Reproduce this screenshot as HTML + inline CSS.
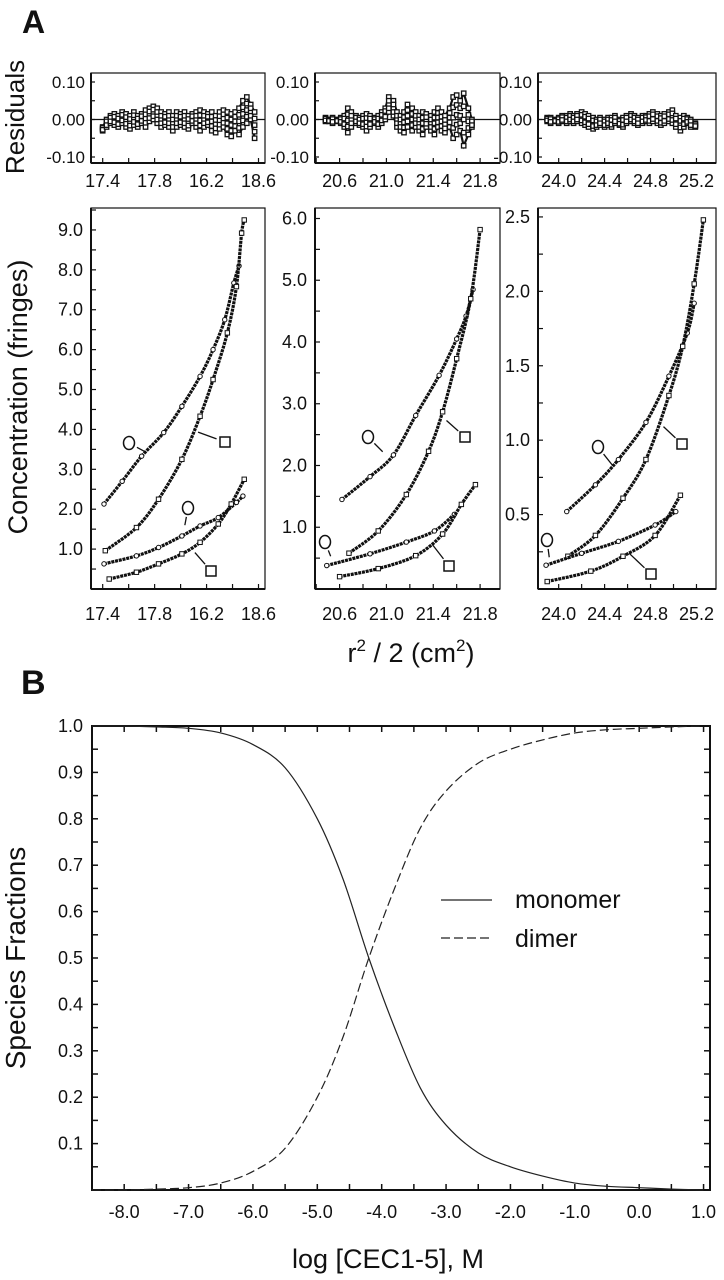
<!DOCTYPE html>
<html><head><meta charset="utf-8"><style>
html,body{margin:0;padding:0;background:#fff}
svg{display:block}
text{font-family:"Liberation Sans",sans-serif;fill:#111}
</style></head><body>
<svg id="fig" width="724" height="1280" viewBox="0 0 724 1280" xmlns="http://www.w3.org/2000/svg">
<text x="22" y="33" font-size="32" font-weight="bold">A</text>
<text x="21" y="694" font-size="34" font-weight="bold">B</text>
<text transform="translate(24,117) rotate(-90)" text-anchor="middle" font-size="26">Residuals</text>
<text transform="translate(27,397) rotate(-90)" text-anchor="middle" font-size="27">Concentration (fringes)</text>
<text x="411" y="662" text-anchor="middle" font-size="27">r<tspan font-size="17" dy="-11">2</tspan><tspan dy="11"> / 2  (cm</tspan><tspan font-size="17" dy="-11">2</tspan><tspan dy="11">)</tspan></text>
<text transform="translate(25,958) rotate(-90)" text-anchor="middle" font-size="28">Species Fractions</text>
<text x="388" y="1268" text-anchor="middle" font-size="27">log [CEC1-5], M</text>
<g id="root"></g>
</svg>
<script>
// ---------- Panel A data ----------
const xTicks1 = [17.4, 17.8, 18.2, 18.6];
const xTickLabels1 = ["17.4", "17.8", "16.2", "18.6"];
const xTicks2 = [20.6, 21.0, 21.4, 21.8];
const xTickLabels2 = ["20.6", "21.0", "21.4", "21.8"];
const xTicks3 = [24.0, 24.4, 24.8, 25.2];
const xTickLabels3 = ["24.0", "24.4", "24.8", "25.2"];
const yTicks1 = [1, 2, 3, 4, 5, 6, 7, 8, 9];
const yTickLabels1 = ["1.0","2.0","3.0","4.0","5.0","6.0","7.0","8.0","9.0"];
const yTicks2 = [1, 2, 3, 4, 5, 6];
const yTickLabels2 = ["1.0","2.0","3.0","4.0","5.0","6.0"];
const yTicks3 = [0.5, 1.0, 1.5, 2.0, 2.5];
const yTickLabels3 = ["0.5","1.0","1.5","2.0","2.5"];
const resTicks = [0.10, 0.00, -0.10];
const resTickLabels = ["0.10", "0.00", "-0.10"];

const p1CircleHi = [[17.41,2.13],[17.55,2.7],[17.70,3.33],[17.87,3.92],[18.01,4.58],[18.15,5.33],[18.25,6.0],[18.34,6.75],[18.41,7.67],[18.45,8.1]];
const p1SquareHi = [[17.42,0.96],[17.66,1.54],[17.83,2.25],[18.01,3.25],[18.15,4.33],[18.25,5.25],[18.36,6.42],[18.43,7.58],[18.47,8.92],[18.49,9.25]];
const p1CircleLo = [[17.41,0.63],[17.66,0.83],[17.83,1.04],[18.01,1.33],[18.15,1.58],[18.29,1.79],[18.43,2.17],[18.48,2.33]];
const p1SquareLo = [[17.45,0.25],[17.66,0.42],[17.83,0.63],[18.01,0.88],[18.15,1.17],[18.29,1.63],[18.39,2.13],[18.49,2.75]];
const p2CircleHi = [[20.62,1.45],[20.86,1.82],[21.06,2.17],[21.25,2.81],[21.45,3.46],[21.60,4.05],[21.68,4.42],[21.74,4.85]];
const p2SquareHi = [[20.68,0.58],[20.93,0.94],[21.17,1.53],[21.36,2.23],[21.48,2.87],[21.60,3.73],[21.72,4.70],[21.80,5.82]];
const p2CircleLo = [[20.49,0.38],[20.86,0.57],[21.17,0.76],[21.41,0.94],[21.58,1.21]];
const p2SquareLo = [[20.60,0.20],[20.93,0.33],[21.25,0.54],[21.48,0.89],[21.64,1.37],[21.76,1.69]];
const p3CircleHi = [[24.07,0.52],[24.32,0.70],[24.52,0.87],[24.76,1.12],[24.96,1.43],[25.12,1.72],[25.18,1.92]];
const p3SquareHi = [[24.08,0.22],[24.32,0.36],[24.56,0.61],[24.76,0.87],[24.96,1.30],[25.08,1.63],[25.18,2.05],[25.26,2.48]];
const p3CircleLo = [[23.89,0.16],[24.20,0.24],[24.52,0.32],[24.84,0.43],[25.02,0.52]];
const p3SquareLo = [[23.90,0.05],[24.28,0.12],[24.56,0.22],[24.84,0.36],[25.06,0.63]];

const res1X = [17.40,17.43,17.46,17.49,17.52,17.55,17.58,17.61,17.64,17.67,17.70,17.73,17.76,17.79,17.82,17.85,17.88,17.91,17.94,17.97,18.00,18.03,18.06,18.09,18.12,18.15,18.18,18.21,18.24,18.27,18.30,18.33,18.36,18.39,18.42,18.45,18.48,18.51,18.54,18.57];
const res1Hi = [-0.02,0.00,0.01,0.015,0.01,0.02,0.015,0.01,0.02,0.01,0.015,0.025,0.03,0.035,0.03,0.02,0.015,0.02,0.01,0.02,0.015,0.02,0.01,0.015,0.02,0.025,0.02,0.015,0.02,0.01,0.02,0.025,0.02,0.015,0.02,0.03,0.05,0.06,0.04,0.02];
const res1Lo = [-0.03,-0.02,-0.01,-0.015,-0.02,-0.01,-0.02,-0.025,-0.015,-0.02,-0.01,-0.02,-0.005,0.0,-0.01,-0.02,-0.015,-0.02,-0.03,-0.02,-0.015,-0.02,-0.025,-0.01,-0.02,-0.03,-0.02,-0.015,-0.03,-0.035,-0.025,-0.02,-0.04,-0.045,-0.03,-0.04,-0.02,-0.01,0.0,-0.05];
const res2X = [20.48,20.51,20.54,20.58,20.61,20.64,20.67,20.70,20.74,20.77,20.80,20.83,20.86,20.90,20.93,20.96,20.99,21.02,21.06,21.09,21.12,21.15,21.18,21.22,21.25,21.28,21.31,21.34,21.38,21.41,21.44,21.47,21.50,21.54,21.57,21.60,21.63,21.66,21.70,21.73];
const res2Hi = [0.005,0.0,0.005,0.0,0.005,0.01,0.03,0.02,0.01,0.005,0.01,0.015,0.01,0.005,0.01,0.02,0.03,0.06,0.05,0.02,0.01,0.02,0.04,0.03,0.02,0.01,0.02,0.015,0.01,0.02,0.03,0.02,0.01,0.03,0.06,0.065,0.05,0.07,0.03,0.0];
const res2Lo = [-0.005,-0.005,-0.01,-0.005,-0.01,-0.02,-0.035,-0.02,-0.01,-0.015,-0.02,-0.03,-0.02,-0.01,-0.02,-0.01,0.0,0.02,0.01,-0.02,-0.03,-0.035,-0.02,-0.03,-0.02,-0.03,-0.04,-0.02,-0.03,-0.04,-0.02,-0.03,-0.035,-0.02,-0.05,-0.04,-0.03,-0.07,-0.04,-0.02];
const res3X = [23.90,23.93,23.97,24.00,24.03,24.07,24.10,24.13,24.16,24.20,24.23,24.26,24.30,24.33,24.36,24.40,24.43,24.46,24.49,24.53,24.56,24.59,24.63,24.66,24.69,24.73,24.76,24.79,24.82,24.86,24.89,24.92,24.96,24.99,25.02,25.06,25.09,25.12,25.15,25.19];
const res3Hi = [0.005,0.005,0.0,0.005,0.01,0.01,0.015,0.01,0.015,0.02,0.015,0.01,0.005,0.0,0.005,0.0,0.005,0.005,0.01,0.0,0.005,0.01,0.015,0.01,0.005,0.01,0.01,0.015,0.02,0.015,0.01,0.015,0.02,0.025,0.01,0.005,0.01,0.005,0.0,-0.01];
const res3Lo = [-0.005,-0.01,-0.005,-0.01,-0.005,-0.01,-0.005,-0.01,-0.005,-0.01,-0.015,-0.02,-0.025,-0.02,-0.015,-0.02,-0.015,-0.02,-0.01,-0.015,-0.02,-0.01,-0.005,-0.01,-0.015,-0.01,-0.005,-0.01,-0.005,-0.01,-0.015,-0.01,-0.005,-0.01,-0.02,-0.03,-0.02,-0.01,-0.02,-0.02];

// ---------- Panel B data ----------
const logConc = [-8.5,-8.0,-7.5,-7.0,-6.5,-6.0,-5.5,-5.0,-4.6,-4.2,-3.8,-3.4,-3.0,-2.5,-2.0,-1.5,-1.0,-0.5,0.0,0.5,1.0];
const monomerFrac = [1.0,1.0,0.998,0.995,0.985,0.96,0.91,0.80,0.67,0.50,0.35,0.22,0.14,0.08,0.05,0.03,0.015,0.008,0.005,0.002,0.0];
const dimerFrac = [0.0,0.0,0.002,0.005,0.015,0.04,0.09,0.20,0.33,0.50,0.65,0.78,0.86,0.92,0.95,0.97,0.985,0.992,0.995,0.998,1.0];
const bXTicks = [-8,-7,-6,-5,-4,-3,-2,-1,0,1];
const bXTickLabels = ["-8.0","-7.0","-6.0","-5.0","-4.0","-3.0","-2.0","-1.0","0.0","1.0"];
const bYTicks = [0.1,0.2,0.3,0.4,0.5,0.6,0.7,0.8,0.9,1.0];
const bYTickLabels = ["0.1","0.2","0.3","0.4","0.5","0.6","0.7","0.8","0.9","1.0"];

const NS = "http://www.w3.org/2000/svg";
const root = document.getElementById('root');
function mk(tag, attrs, parent) {
  const e = document.createElementNS(NS, tag);
  for (const k in attrs) e.setAttribute(k, attrs[k]);
  (parent || root).appendChild(e);
  return e;
}
function scale(d0, d1, r0, r1) { return v => r0 + (v - d0) / (d1 - d0) * (r1 - r0); }
function smoothPath(pts) {
  let d = "M" + pts[0][0] + "," + pts[0][1];
  for (let i = 0; i < pts.length - 1; i++) {
    const p0 = pts[Math.max(i - 1, 0)], p1 = pts[i], p2 = pts[i + 1], p3 = pts[Math.min(i + 2, pts.length - 1)];
    const c1x = p1[0] + (p2[0] - p0[0]) / 6, c1y = p1[1] + (p2[1] - p0[1]) / 6;
    const c2x = p2[0] - (p3[0] - p1[0]) / 6, c2y = p2[1] - (p3[1] - p1[1]) / 6;
    d += " C" + c1x + "," + c1y + " " + c2x + "," + c2y + " " + p2[0] + "," + p2[1];
  }
  return d;
}

const panels = [
  {l:91, r:265, xd:[17.31,18.65], xt:xTicks1, xl:xTickLabels1, yd:[0,9.55], yt:yTicks1, yl:yTickLabels1, ym:0.5,
   curves:[[p1CircleHi,'c'],[p1SquareHi,'s'],[p1CircleLo,'c'],[p1SquareLo,'s']],
   res:[res1X,res1Hi,res1Lo],
   syms:[['c',129,443,17.75,3.4],['s',225,442,18.12,3.95],['c',188,508,18.03,1.55],['s',211,571,18.1,0.95]]},
  {l:315, r:500, xd:[20.39,21.97], xt:xTicks2, xl:xTickLabels2, yd:[0,6.17], yt:yTicks2, yl:yTickLabels2, ym:0.5,
   curves:[[p2CircleHi,'c'],[p2SquareHi,'s'],[p2CircleLo,'c'],[p2SquareLo,'s']],
   res:[res2X,res2Hi,res2Lo],
   syms:[['c',368,437,20.98,2.2],['s',465,437,21.5,2.75],['c',325,542,20.53,0.5],['s',449,566,21.38,0.75]]},
  {l:538, r:716, xd:[23.82,25.37], xt:xTicks3, xl:xTickLabels3, yd:[0,2.56], yt:yTicks3, yl:yTickLabels3, ym:0.25,
   curves:[[p3CircleHi,'c'],[p3SquareHi,'s'],[p3CircleLo,'c'],[p3SquareLo,'s']],
   res:[res3X,res3Hi,res3Lo],
   syms:[['c',598,447,24.48,0.82],['s',682,444,24.9,1.1],['c',547,540,23.92,0.2],['s',651,574,24.6,0.25]]}
];

panels.forEach((p, pi) => {
  const g = mk('g', {});
  
  
  const X = scale(p.xd[0], p.xd[1], p.l, p.r);
  const Y = scale(p.yd[0], p.yd[1], 589, 208);
  const frame = mk('rect', {x:p.l, y:208, width:p.r - p.l, height:381, fill:'none', stroke:'#111', 'stroke-width':1.2}, g);
  
  
  mk('line', {x1:p.l, y1:208, x2:p.l, y2:589, stroke:'#111', 'stroke-width':2}, g);
  mk('line', {x1:p.l, y1:589, x2:p.r, y2:589, stroke:'#111', 'stroke-width':2}, g);
  for (let v = p.xt[0] - 0.2; v <= p.xd[1]; v += 0.2) {
    if (v < p.xd[0]) continue;
    mk('line', {x1:X(v), y1:589, x2:X(v), y2:584, stroke:'#111', 'stroke-width':1.2}, g);
  }
  p.xt.forEach((v, i) => {
    const t = mk('text', {x:X(v), y:620, 'text-anchor':'middle', 'font-size':18}, g);
    t.textContent = p.xl[i];
    
    
  });
  for (let v = p.ym; v < p.yd[1]; v += p.ym) {
    mk('line', {x1:p.l, y1:Y(v), x2:p.l + 5, y2:Y(v), stroke:'#111', 'stroke-width':1.2}, g);
  }
  p.yt.forEach((v, i) => {
    const t = mk('text', {x:p.l - 8, y:Y(v) + 6, 'text-anchor':'end', 'font-size':18}, g);
    t.textContent = p.yl[i];
    
    
  });
  p.curves.forEach((c, ci) => {
    const pts = c[0].map(d => [X(d[0]), Y(d[1])]);
    const path = mk('path', {d:smoothPath(pts), fill:'none', stroke:'#111', 'stroke-width':3.2, 'stroke-dasharray':'3 0.8'}, g);
    
    
    c[0].forEach(d => {
      let m;
      if (c[1] === 'c') m = mk('circle', {cx:X(d[0]), cy:Y(d[1]), r:2.2, fill:'#fff', stroke:'#111', 'stroke-width':1}, g);
      else m = mk('rect', {x:X(d[0]) - 2.2, y:Y(d[1]) - 2.2, width:4.4, height:4.4, fill:'#fff', stroke:'#111', 'stroke-width':1}, g);
      
      
    });
  });
  p.syms.forEach(s => {
    const tx = X(s[3]), ty = Y(s[4]);
    const dx = tx - s[1], dy = ty - s[2], len = Math.hypot(dx, dy);
    const ux = dx / len, uy = dy / len;
    mk('line', {x1:s[1] + ux * 9, y1:s[2] + uy * 9, x2:s[1] + ux * (len - 2), y2:s[2] + uy * (len - 2), stroke:'#111', 'stroke-width':1.3}, g);
    let m;
    if (s[0] === 'c') m = mk('ellipse', {cx:s[1], cy:s[2], rx:5.5, ry:6.5, fill:'#fff', stroke:'#111', 'stroke-width':1.5}, g);
    else m = mk('rect', {x:s[1] - 5, y:s[2] - 5, width:10, height:10, fill:'#fff', stroke:'#111', 'stroke-width':1.5}, g);
    
    
  });

  const rg = mk('g', {});
  
  
  const RY = scale(-0.116, 0.124, 163, 73);
  mk('rect', {x:p.l, y:73, width:p.r - p.l, height:90, fill:'none', stroke:'#111', 'stroke-width':1.2}, rg);
  mk('line', {x1:p.l, y1:73, x2:p.l, y2:163, stroke:'#111', 'stroke-width':2}, rg);
  mk('line', {x1:p.l, y1:163, x2:p.r, y2:163, stroke:'#111', 'stroke-width':2}, rg);
  const zl = mk('line', {x1:p.l, y1:RY(0), x2:p.r, y2:RY(0), stroke:'#111', 'stroke-width':1.2}, rg);
  
  
  for (let v = p.xt[0] - 0.2; v <= p.xd[1]; v += 0.2) {
    if (v < p.xd[0]) continue;
    mk('line', {x1:X(v), y1:163, x2:X(v), y2:158, stroke:'#111', 'stroke-width':1.2}, rg);
  }
  p.xt.forEach((v, i) => {
    const t = mk('text', {x:X(v), y:187, 'text-anchor':'middle', 'font-size':18}, rg);
    t.textContent = p.xl[i];
    
    
  });
  [0.1, 0.05, 0, -0.05, -0.1].forEach(v => mk('line', {x1:p.l, y1:RY(v), x2:p.l + 4, y2:RY(v), stroke:'#111', 'stroke-width':1.2}, rg));
  resTicks.forEach((v, i) => {
    const t = mk('text', {x:p.l - 6, y:RY(v) + 6, 'text-anchor':'end', 'font-size':17}, rg);
    t.textContent = resTickLabels[i];
    
    
  });
  const [rx, rh, rl] = p.res;
  const hiLine = mk('polyline', {points: rx.map((xv, i) => X(xv) + ',' + RY(rh[i])).join(' '), fill:'none', stroke:'#111', 'stroke-width':2.2}, rg);
  
  
  const loLine = mk('polyline', {points: rx.map((xv, i) => X(xv) + ',' + RY(rl[i])).join(' '), fill:'none', stroke:'#111', 'stroke-width':2.2}, rg);
  
  
  rx.forEach((xv, i) => {
    [rh[i], rl[i], (rh[i] + rl[i]) / 2, (3 * rh[i] + rl[i]) / 4, (rh[i] + 3 * rl[i]) / 4].forEach(yv => {
      const m = mk('rect', {x:X(xv) - 2.2, y:RY(yv) - 2.2, width:4.4, height:4.4, fill:'#fff', stroke:'#111', 'stroke-width':1.3}, rg);
      
      
    });
  });
});

(function () {
  const g = mk('g', {});
  
  
  const L = 92, R = 710, T = 726, B = 1190;
  const X = scale(-8.5, 1.1, L, R);
  const Y = scale(0, 1, B, T);
  const fr = mk('rect', {x:L, y:T, width:R - L, height:B - T, fill:'none', stroke:'#111', 'stroke-width':2}, g);
  
  
  for (let v = -8.0; v <= 1.0001; v += 0.5) {
    mk('line', {x1:X(v), y1:B, x2:X(v), y2:B - 6, stroke:'#111', 'stroke-width':1.5}, g);
    mk('line', {x1:X(v), y1:T, x2:X(v), y2:T + 6, stroke:'#111', 'stroke-width':1.5}, g);
  }
  for (let v = 0.05; v < 1; v += 0.05) {
    mk('line', {x1:L, y1:Y(v), x2:L + 6, y2:Y(v), stroke:'#111', 'stroke-width':1.5}, g);
    mk('line', {x1:R, y1:Y(v), x2:R - 6, y2:Y(v), stroke:'#111', 'stroke-width':1.5}, g);
  }
  bXTicks.forEach((v, i) => {
    const t = mk('text', {x:X(v), y:1218, 'text-anchor':'middle', 'font-size':18}, g);
    t.textContent = bXTickLabels[i];
    
    
  });
  bYTicks.forEach((v, i) => {
    const t = mk('text', {x:83, y:Y(v) + 6, 'text-anchor':'end', 'font-size':18}, g);
    t.textContent = bYTickLabels[i];
    
    
  });
  const mon = mk('path', {d:smoothPath(logConc.map((x, i) => [X(x), Y(monomerFrac[i])])), fill:'none', stroke:'#222', 'stroke-width':1.2}, g);
  
  
  const dim = mk('path', {d:smoothPath(logConc.map((x, i) => [X(x), Y(dimerFrac[i])])), fill:'none', stroke:'#222', 'stroke-width':1.2, 'stroke-dasharray':'9 4'}, g);
  
  
  const lg = mk('g', {}, g);
  
  
  mk('line', {x1:441, y1:900, x2:492, y2:900, stroke:'#222', 'stroke-width':1.2}, lg);
  mk('line', {x1:441, y1:938, x2:492, y2:938, stroke:'#222', 'stroke-width':1.2, 'stroke-dasharray':'9 4'}, lg);
  const t1 = mk('text', {x:515, y:908, 'font-size':25}, lg);
  t1.textContent = 'monomer';
  
  
  const t2 = mk('text', {x:515, y:947, 'font-size':25}, lg);
  t2.textContent = 'dimer';
  
  
})();
</script>
</body></html>
